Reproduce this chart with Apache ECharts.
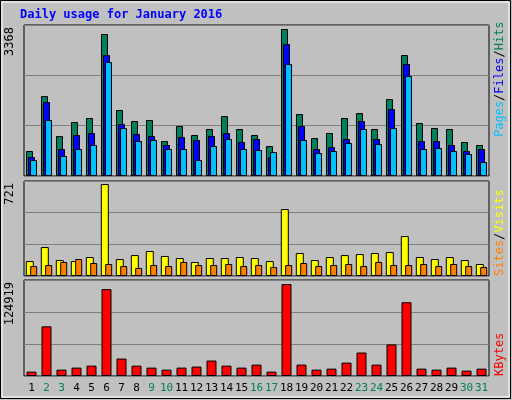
<!DOCTYPE html>
<html><head><meta charset="utf-8">
<script src="https://cdn.jsdelivr.net/npm/echarts@6/dist/echarts.min.js"></script>
<style>html,body{margin:0;padding:0;background:#fff}#chart{width:512px;height:400px}</style>
</head><body><div id="chart"></div>
<script>
var days = [];
for (var d = 1; d <= 31; d++) days.push(String(d));
var weekendDays = ['2','3','9','10','16','17','23','24','30','31'];
var hits = [561,1795,898,1212,1302,3187,1481,1234,1257,785,1122,920,1055,1346,1055,920,673,3300,1391,853,965,1302,1414,1055,1728,2715,1189,1077,1055,763,696];
var files = [426,1661,606,920,965,2715,1167,942,898,696,875,808,898,965,763,830,426,2962,1122,606,651,830,1234,830,1503,2513,785,785,696,561,606];
var pages = [359,1257,449,606,696,2558,1077,785,808,606,606,359,673,830,606,583,539,2513,808,516,561,741,1055,718,1077,2244,606,628,561,494,314];
var visits = [117,227,125,117,149,721,133,164,196,157,141,110,141,141,149,141,117,525,180,125,149,164,172,180,188,313,149,133,149,125,94];
var sites = [78,86,110,133,102,94,78,63,86,78,110,86,86,94,78,86,70,86,102,78,86,94,78,110,86,86,94,78,94,78,70];
var kbytes = [5930,67500,8660,11400,14100,118100,23700,14100,11400,8660,11400,12800,21000,14100,11400,15500,5930,124919,15500,8660,10000,18200,31900,15500,42900,100300,10000,8660,11400,7300,10000];
var maxLabels = ['3368', '721', '124919'];

var chart = echarts.init(document.getElementById('chart'));
var font = 'DejaVu Sans Mono';
var maxes = [3390, 745, 130500];
var grids = [
    {left: 24, width: 465, top: 25, height: 151},
    {left: 24, width: 465, top: 181, height: 95},
    {left: 24, width: 465, top: 280, height: 96}
];
var xAxes = [], yAxes = [];
grids.forEach(function (g, i) {
    g.show = true;
    g.borderColor = '#000';
    g.borderWidth = 1;
    g.backgroundColor = '#c0c0c0';
    xAxes.push({
        type: 'category', gridIndex: i, data: days,
        axisLine: {show: false}, axisTick: {show: false},
        axisLabel: {
            show: i == 2, interval: 0, fontFamily: font, fontSize: 11, margin: 7,
            color: function (v) { return weekendDays.indexOf(v) >= 0 ? '#00805c' : '#000'; }
        }
    });
    yAxes.push({
        type: 'value', gridIndex: i, min: 0, max: maxes[i], interval: maxes[i] / 3,
        axisLabel: {show: false}, axisLine: {show: false}, axisTick: {show: false},
        splitLine: {lineStyle: {color: '#808080', width: 1}}
    });
});

function bar(name, data, idx, color, width, gap) {
    return {
        name: name, type: 'bar', xAxisIndex: idx, yAxisIndex: idx, data: data,
        barWidth: width, barGap: gap, animation: false,
        itemStyle: {color: color, borderColor: '#000', borderWidth: 1}
    };
}

// 右侧竖排图例（自下而上）
function sideText(y, parts) {
    return {
        type: 'text', x: 500, y: y, rotation: Math.PI / 2,
        style: {
            text: parts.map(function (p) { return '{' + p[1] + '|' + p[0] + '}'; }).join(''),
            rich: {
                c: {fill: '#00c0ff'}, b: {fill: '#0000ff'}, g: {fill: '#00805c'}, k: {fill: '#000'},
                o: {fill: '#ff8000'}, y: {fill: '#ffff00'}, r: {fill: '#ff0000'}
            },
            font: '12px ' + font, verticalAlign: 'middle', align: 'left'
        }
    };
}

function leftText(y, text) {
    return {
        type: 'text', x: 10, y: y, rotation: Math.PI / 2,
        style: {text: text, font: '12px ' + font, fill: '#000', verticalAlign: 'middle', align: 'right'}
    };
}

var option = {
    backgroundColor: '#c0c0c0',
    animation: false,
    grid: grids,
    xAxis: xAxes,
    yAxis: yAxes,
    series: [
        bar('Hits', hits, 0, '#00805c', 7, '-71%'),
        bar('Files', files, 0, '#0000ff', 7, '-71%'),
        bar('Pages', pages, 0, '#00c0ff', 7, '-71%'),
        bar('Visits', visits, 1, '#ffff00', 8, '-45%'),
        bar('Sites', sites, 1, '#ff8000', 7, '-45%'),
        bar('KBytes', kbytes, 2, '#ff0000', 10, '0%')
    ],
    graphic: [
        {type: 'rect', shape: {x: 0.5, y: 0.5, width: 510, height: 398}, style: {fill: 'none', stroke: '#000', lineWidth: 1}},
        {type: 'rect', shape: {x: 2, y: 2, width: 507, height: 395}, style: {fill: 'none', stroke: '#fff', lineWidth: 1}},
        {type: 'text', x: 20, y: 9, style: {text: 'Daily usage for January 2016', font: 'bold 12px ' + font, fill: '#0000ff'}},
        leftText(27, maxLabels[0]),
        leftText(183, maxLabels[1]),
        leftText(282, maxLabels[2]),
        sideText(137, [['Pages', 'c'], ['/', 'k'], ['Files', 'b'], ['/', 'k'], ['Hits', 'g']]),
        sideText(276, [['Sites', 'o'], ['/', 'k'], ['Visits', 'y']]),
        sideText(376, [['KBytes', 'r']])
    ]
};
chart.setOption(option);
</script></body></html>
